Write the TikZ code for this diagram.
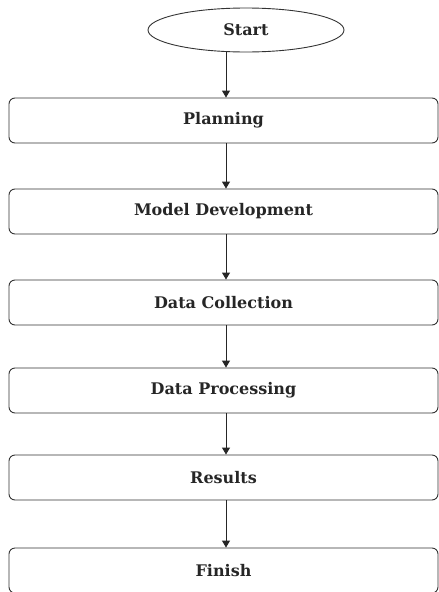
\documentclass[tikz,border=0pt]{standalone}
\usepackage{fontspec}
\newfontfamily\boxfont{DejaVu Serif}
\usetikzlibrary{shapes.geometric,arrows.meta}
\begin{document}
\begin{tikzpicture}[x=1pt,y=-1pt,
  stepbox/.style={draw=black!80,line width=0.9pt,rounded corners=6pt,minimum width=429pt,minimum height=45pt,inner sep=0pt,text=black!85,font=\boxfont\bfseries\fontsize{16}{18}\selectfont},
  startnode/.style={draw=black!80,line width=0.9pt,ellipse,minimum width=196pt,minimum height=44pt,inner sep=0pt,text=black!85,font=\boxfont\bfseries\fontsize{16}{18}\selectfont},
  flow/.style={-{Triangle[length=7pt,width=8pt]},line width=0.9pt,black!85}]
\useasboundingbox (0,0) rectangle (439,592);
\node[startnode] (s) at (246,30) {Start};
\node[stepbox] (p) at (223.5,120.5) {Planning};
\node[stepbox] (m) at (223.5,211.5) {Model Development};
\node[stepbox] (c) at (223.5,302.5) {Data Collection};
\node[stepbox] (d) at (223.5,390.5) {Data Processing};
\node[stepbox] (r) at (223.5,477.5) {Results};
\node[stepbox] (f) at (223.5,570.5) {Finish};
\draw[flow] (s.south -| 226,0) -- (p.north -| 226,0);
\draw[flow] (p.south -| 226,0) -- (m.north -| 226,0);
\draw[flow] (m.south -| 226,0) -- (c.north -| 226,0);
\draw[flow] (c.south -| 226,0) -- (d.north -| 226,0);
\draw[flow] (d.south -| 226,0) -- (r.north -| 226,0);
\draw[flow] (r.south -| 226,0) -- (f.north -| 226,0);
\end{tikzpicture}
\end{document}
